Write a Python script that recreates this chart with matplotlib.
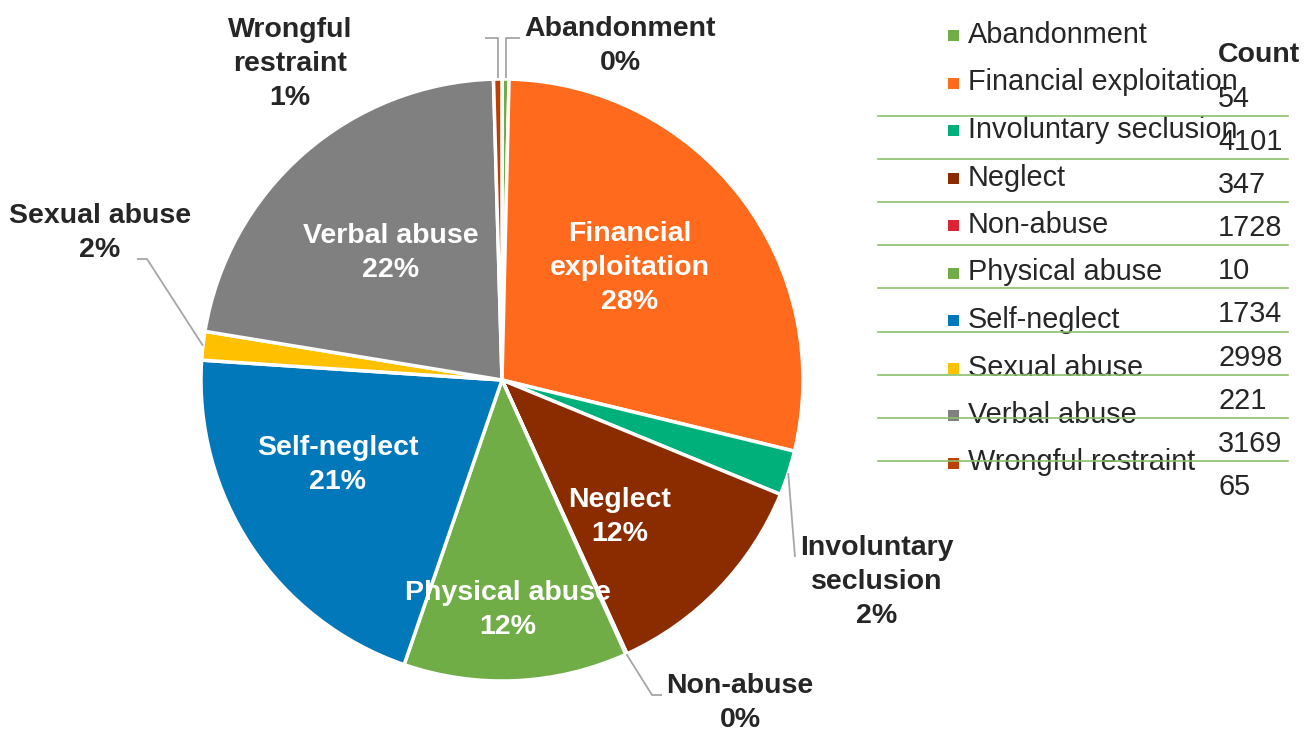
import numpy as np
import matplotlib.pyplot as plt
from matplotlib.patches import Rectangle

plt.rcParams['font.family'] = ['Liberation Sans', 'DejaVu Sans']

categories = ['Abandonment', 'Financial exploitation', 'Involuntary seclusion', 'Neglect',
              'Non-abuse', 'Physical abuse', 'Self-neglect', 'Sexual abuse', 'Verbal abuse',
              'Wrongful restraint']
counts = [54, 4101, 347, 1728, 10, 1734, 2998, 221, 3169, 65]
colors = ['#70AD47', '#FF6A1C', '#00B07A', '#8B2C00', '#DC2434', '#70AD47', '#0078BA',
          '#FFC000', '#808080', '#BC3F05']

# percentages rounded like Excel (largest remainder so they add to 100)
raw = 100 * np.array(counts) / sum(counts)
pct = np.floor(raw).astype(int)
for i in np.argsort(-(raw - pct))[:100 - pct.sum()]:
    pct[i] += 1

W, H = 1304, 731
fig = plt.figure(figsize=(W / 100, H / 100), dpi=100)
ax = fig.add_axes([0, 0, 1, 1])
cx, cy, R = 502, H - 380, 301
wedges, _ = ax.pie(counts, colors=colors, startangle=90, counterclock=False,
                   center=(cx, cy), radius=R,
                   wedgeprops=dict(edgecolor='white', linewidth=2.5))
ax.set_xlim(0, W)
ax.set_ylim(0, H)
ax.set_aspect('auto')
ax.axis('off')

dark = '#262626'
fs = 20.5
ls = 1.4

def edge(i, f=1.0, dt=0.0):
    t = np.deg2rad((wedges[i].theta1 + wedges[i].theta2) / 2 + dt)
    return cx + f * R * np.cos(t), cy + f * R * np.sin(t)

# labels inside the slices: (radius factor, angle nudge)
inside = {1: (0.565, 3.7), 3: (0.60, -5.4), 5: (0.765, -1.2), 6: (0.615, -6.2), 8: (0.56, 0.2)}
names = {1: 'Financial\nexploitation', 2: 'Involuntary\nseclusion', 9: 'Wrongful\nrestraint'}
for i, (f, dt) in inside.items():
    x, y = edge(i, f, dt)
    ax.text(x, y, names.get(i, categories[i]) + '\n%d%%' % pct[i], color='white',
            fontsize=fs, fontweight='bold', ha='center', va='center', linespacing=ls)

# labels outside with leader lines (text pos in pixels from top, elbow points)
outside = {
    0: ((620, 46), [(None, 38), (520, 38)]),
    9: ((290, 64), [(None, 38), (485, 38)]),
    7: ((100, 233), [(147, 259), (137, 259)]),
    2: ((877, 582), [(795, 557)]),
    4: ((740, 703), [(652, 695), (662, 695)]),
}
for i, ((tx, ty), pts) in outside.items():
    ax.text(tx, H - ty, names.get(i, categories[i]) + '\n%d%%' % pct[i], color=dark,
            fontsize=fs, fontweight='bold', ha='center', va='center', linespacing=ls)
    x0, y0 = edge(i, 1.0)
    xs, ys = [x0], [y0 if i not in (0, 9) else H - 78]
    for px, py in pts:
        xs.append(x0 if px is None else px)
        ys.append(H - py)
    ax.plot(xs, ys, color='#A6A6A6', lw=1.3, solid_capstyle='butt')

# legend
for k, (lab, col) in enumerate(zip(categories, colors)):
    y = H - (35 + k * 47.5)
    ax.add_patch(Rectangle((948, y - 6), 11, 11, facecolor=col, edgecolor='none'))
    ax.text(968, y, lab, color=dark, fontsize=20.8, ha='left', va='center')

# count column
ax.text(1218, H - 55, 'Count', color=dark, fontsize=20.5, fontweight='bold',
        ha='left', va='center')
for k, c in enumerate(counts):
    ax.text(1218, H - (99 + k * 43.1), str(c), color=dark, fontsize=20.8,
            ha='left', va='center')
for k in range(9):
    y = H - (116 + k * 43.1)
    ax.plot([878, 1288], [y, y], color='#8CC068', lw=1.2, zorder=5)

fig.savefig('out.png', dpi=100)
